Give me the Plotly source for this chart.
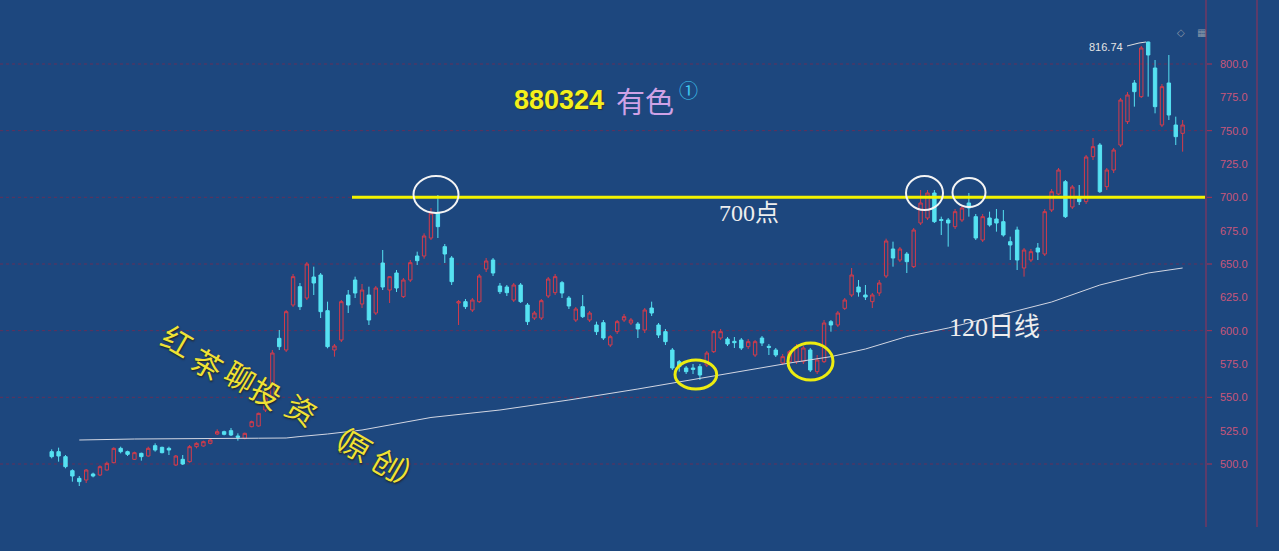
import plotly.graph_objects as go

# ---------------- data ----------------
OPEN = [509.25, 509.25, 505.5, 495, 489.25, 488, 492.5, 491.75, 495.5, 501,
        511.75, 509.25, 503.5, 508, 506, 513.75, 512.5, 511.75, 499.25, 503.5,
        501.75, 513, 513.5, 515.5, 522.5, 524.25, 525, 521, 519.25, 528,
        528.5, 540.5, 550.25, 594.25, 585.5, 619.25, 633, 624.5, 640.25, 641.75,
        615, 585.5, 593, 626.75, 638, 620, 626.75, 613.25, 650.75, 630.5,
        643.25, 625.5, 638, 656, 656, 669.5, 688.25, 663, 654.5, 620.75,
        621.75, 615.5, 621.75, 646.25, 653, 633.5, 632.75, 623, 634.25, 619.25,
        609.5, 609.5, 626, 628.5, 636, 624.5, 608, 618, 608, 604.25,
        606, 589.25, 599.25, 608, 605.75, 605, 600.5, 617, 604.25, 599.25,
        585.5, 576.75, 572, 572, 573, 574.25, 584.25, 594.5, 593.75, 592,
        593, 588, 581.75, 594.5, 588.25, 585.5, 575.75, 576.75, 576.75, 576.75,
        585.5, 569.25, 576.75, 606.75, 604.25, 616.75, 626.75, 632.75, 626.75, 621.75,
        628.25, 641, 661.25, 653, 657.5, 648, 680.75, 684.5, 703.25, 683.4,
        683, 678, 683, 695.75, 685.5, 668, 684.5, 683.75, 681.75, 666.75,
        675.5, 647, 653, 662, 657.5, 690.5, 702.5, 711.75, 692.75, 700.5,
        696.75, 730.5, 739.25, 708, 720.5, 739.25, 756.75, 785.75, 775.5, 816.5,
        797, 754.25, 785.75, 754.25, 748]
HIGH = [511, 512.25, 506.75, 496, 491, 496.25, 493.5, 499, 501.75, 512.5,
        513, 510, 509.25, 508.5, 513, 515.5, 513, 513, 506.75, 506.75,
        514.25, 516.25, 517.5, 518.75, 526, 525, 527, 523, 523.5, 532.5,
        538.5, 551, 585.5, 600.5, 615.5, 642.5, 635.75, 651.5, 648, 643.25,
        621.75, 590, 623, 630.5, 640.5, 635, 633, 633.5, 660.5, 641,
        645.5, 639.5, 653, 659.25, 673, 692, 701.75, 665, 656, 623,
        623.75, 624.5, 642.5, 654.5, 654.5, 635.75, 634.25, 635.75, 635.75, 620.75,
        614.75, 623.75, 640.25, 642.5, 637.25, 626, 617.75, 626.75, 614.75, 606.75,
        608, 596.75, 608, 612.5, 609.5, 606.5, 617, 621.75, 605.75, 601.25,
        587, 578, 573.5, 575, 575, 584.75, 600.5, 601.25, 595.25, 595.25,
        594.5, 593.75, 593, 596, 590, 587, 582.5, 585.5, 590, 588.5,
        587, 581.75, 608, 608, 614.75, 624.5, 647, 638, 634.25, 628.25,
        638, 669, 666.75, 662.75, 659, 677, 705.5, 705.5, 705.5, 685.5,
        684.5, 691.25, 694.25, 703.25, 687.5, 687.5, 689.25, 691.25, 690.5, 670.5,
        678, 662, 661.25, 665.75, 691.25, 706.25, 722, 713, 709.25, 709.25,
        731.75, 744.5, 740.75, 722, 737, 774.5, 779, 788, 813.5, 816.74,
        803, 785, 806.75, 760.5, 758]
LOW = [504.25, 501.75, 496.75, 486.75, 483.5, 485.75, 490, 491, 495, 500.5,
       508, 506, 503, 502.5, 505.5, 509.25, 508, 506.75, 498.5, 499.25,
       501, 511.75, 513, 514.75, 521.75, 521.5, 521, 517.5, 518.5, 527.5,
       528, 539, 549.5, 585.5, 584, 617.75, 615.5, 623, 626.75, 609.5,
       586.75, 580.5, 591.5, 613.25, 624.5, 617, 604.25, 611.75, 630.5, 620.75,
       629, 624.5, 636.5, 649.25, 654, 668, 669.5, 650.75, 634.25, 604.25,
       616.25, 614, 620.75, 644, 641, 627.5, 626, 621.5, 620.75, 604.25,
       608, 608, 624.5, 626.75, 624.5, 616.25, 606.5, 609.5, 606.5, 596.75,
       593, 587.75, 597.5, 606.5, 604.25, 594.5, 598.25, 611, 594.5, 589.25,
       570.5, 569.25, 567.5, 567.5, 563, 572.75, 583.25, 593, 588.5, 587,
       585.5, 586.25, 580.25, 588.5, 581.75, 580.25, 574.25, 575, 575, 575,
       569, 567.5, 575.75, 599.25, 602.75, 615.5, 625.25, 625.5, 623, 617,
       626, 639.5, 648, 651.5, 643.25, 647, 679.25, 683, 680.75, 671.75,
       663, 676.25, 681.5, 685.5, 668, 666.5, 678, 674.25, 670.5, 653,
       645.5, 640.5, 651.5, 653, 656, 689, 701.75, 684.5, 691.25, 694.25,
       695, 728, 703.25, 705.5, 718.25, 737.75, 755, 768, 774.5, 775.5,
       763, 752.75, 758, 739.25, 734.25]
CLOSE = [505.5, 506, 498, 491, 486.75, 495.5, 491, 498, 500.5, 511.75,
         509.25, 507.25, 508.5, 505.5, 511.75, 510.5, 508.5, 510.5, 506, 500,
         513, 515.5, 516.75, 518, 524.25, 522.25, 521.75, 520, 523, 531.75,
         538, 549.5, 583.25, 588, 614.25, 640.5, 618, 650, 635.75, 614.25,
         588, 588.5, 621.75, 619.25, 628.25, 630.5, 608, 632, 632.75, 640.5,
         632, 638, 651, 652.5, 671, 688.25, 678, 657.5, 636.75, 621.75,
         618, 623, 641, 652.25, 643.25, 629.25, 628.5, 634.25, 621.75, 606.75,
         613.25, 622.5, 638.75, 640.5, 628.25, 618.5, 616.25, 610.5, 613.25, 599.25,
         594.5, 595.5, 606.75, 610.5, 608, 601.25, 615.5, 613.25, 596.75, 591.75,
         572, 573, 569.25, 571, 566.75, 583.25, 599.25, 599.25, 590, 591,
         587, 591.75, 591.75, 590.75, 587.5, 581.75, 580.5, 584.25, 588, 587,
         570.5, 578, 605.75, 604.25, 613.25, 623, 641.75, 629, 625.25, 626.75,
         635.75, 667.25, 654.5, 661.25, 651.75, 675.5, 695.75, 703.25, 681.75, 682.6,
         680.75, 689.25, 692, 692, 669.5, 685.5, 679.25, 680.75, 671.75, 664.25,
         653, 660.5, 659.25, 659, 689.25, 704.25, 720.5, 685.5, 707.75, 696.75,
         730.25, 738, 704.25, 720.5, 735.5, 773, 776.75, 779.25, 812, 806.75,
         768, 783, 761.75, 745.5, 754.25]

# 120-day moving average (candle index, value)
MA_IDX = [4, 12, 30, 34, 36, 40, 45, 50, 55, 65, 75, 85, 90, 96, 107, 113,
          118, 124, 130, 137, 145, 152, 159, 164]
MA_VAL = [518, 518.75, 519.35, 519.5, 520.6, 522.5, 525.5, 530.4, 534.9, 540.5,
          548, 556.25, 560.75, 566, 575.75, 580.5, 586.25, 595.6, 602, 611,
          621.5, 634.25, 643.25, 647]

Y_TICKS = [500, 525, 550, 575, 600, 625, 650, 675, 700, 725, 750, 775, 800]
GRID_LEVELS = [500, 550, 600, 650, 700, 750, 800]
RESIST = 700
HIGH_LABEL = "816.74"

# ---------------- layout constants ----------------
W, H = 1279, 551
ML, MR, MT, MB = 0, 74, 22, 24
PW, PH = W - ML - MR, H - MT - MB
N = len(OPEN)
PX0, DX = 51.7, 6.896           # pixel of first candle, spacing
X_RANGE = [-PX0 / DX, (PW - PX0) / DX]
Y_RANGE = [452.75, 831.5]

def xd(px):
    return X_RANGE[0] + px / PW * (X_RANGE[1] - X_RANGE[0])

def yd(py):
    return Y_RANGE[1] - (py - MT) / PH * (Y_RANGE[1] - Y_RANGE[0])

BG = "#1d477e"
UP = "#d63b4a"
DOWN = "#56e2f2"
AXIS = "#5c3b69"

fig = go.Figure()
fig.add_trace(go.Scatter(x=MA_IDX, y=MA_VAL, mode="lines",
                         line=dict(color="#d2d6e2", width=1),
                         hoverinfo="skip", showlegend=False))
fig.add_trace(go.Candlestick(
    x=list(range(N)), open=OPEN, high=HIGH, low=LOW, close=CLOSE,
    increasing=dict(line=dict(color=UP, width=1), fillcolor="rgba(0,0,0,0)"),
    decreasing=dict(line=dict(color=DOWN, width=1), fillcolor=DOWN),
    whiskerwidth=0, showlegend=False, hoverinfo="skip"))

shapes = []
for v in GRID_LEVELS:
    shapes.append(dict(type="line", xref="paper", yref="y", x0=0, x1=1, y0=v, y1=v,
                       line=dict(color="#63305a", width=1, dash="dot"), layer="below"))
    shapes.append(dict(type="line", xref="paper", yref="y", x0=1, x1=1 + 7 / PW, y0=v, y1=v,
                       line=dict(color="#b03050", width=1)))
# right axis frame lines
for px in (PW + 1, 1257):
    shapes.append(dict(type="line", xref="paper", yref="paper", x0=px / PW, x1=px / PW,
                       y0=0, y1=1 + MT / PH, line=dict(color=AXIS, width=2)))
# resistance line
shapes.append(dict(type="line", xref="x", yref="y", x0=xd(352), x1=X_RANGE[1],
                   y0=RESIST, y1=RESIST, line=dict(color="#f3f300", width=3)))
# white circles at the touches of 700
for (px0, px1, py0, py1) in [(413.5, 458.5, 176, 213), (906, 943, 176, 210), (952.5, 985.5, 178, 207)]:
    shapes.append(dict(type="circle", xref="x", yref="y", x0=xd(px0), x1=xd(px1),
                       y0=yd(py1), y1=yd(py0), line=dict(color="#f4f4f4", width=2)))
# yellow ellipses on the MA support
for (px0, px1, py0, py1) in [(675, 716.7, 360, 389), (788, 833, 343, 380)]:
    shapes.append(dict(type="circle", xref="x", yref="y", x0=xd(px0), x1=xd(px1),
                       y0=yd(py1), y1=yd(py0), line=dict(color="#ecec10", width=3)))
# leader from high label to candle
shapes.append(dict(type="path", xref="x", yref="y",
                   path="M %f,%f L %f,%f L %f,%f" % (xd(1127), yd(46), xd(1139), yd(43), xd(1146), yd(42)),
                   line=dict(color="#e0e0e0", width=1)))

ann = []
def txt(px, py, text, size, color, family="Liberation Sans", angle=0, shadow=None, bold=False):
    f = dict(size=size, color=color, family=family)
    if shadow:
        f["shadow"] = shadow
    if bold:
        f["weight"] = "bold"
    ann.append(dict(x=xd(px), y=yd(py), xref="x", yref="y", text=text, showarrow=False,
                    font=f, textangle=angle, xanchor="center", yanchor="middle"))

txt(559, 100, "880324", 27, "#f4f01c", bold=True, shadow="1px 1px 1px #333")
txt(645, 100, "有色", 29, "#cfa2e6", family="Noto Sans CJK SC")
txt(688, 89, "①", 19, "#40c8f0", family="Noto Sans CJK SC")
txt(749, 213, "700点", 24, "#eeeeee", family="Liberation Serif, Noto Sans CJK SC")
txt(994, 327, "120日线", 26, "#eeeeee", family="Liberation Serif, Noto Sans CJK SC")
txt(1106, 47, HIGH_LABEL, 11, "#e4e4e4")
txt(1181, 32, "◇", 10, "#8a96a8", family="DejaVu Sans")
txt(1201, 32, "▦", 10, "#8a96a8", family="DejaVu Sans")

WATERMARK = ["红", "茶", "聊", "投", "资", "（", "原", "创", "）"]
WM_POS = [(178, 340), (208, 363), (241, 376), (267, 392), (302, 409),
          (337, 433), (357, 445), (388, 463), (412, 475)]
for ch, (px, py) in zip(WATERMARK, WM_POS):
    txt(px, py, ch, 30, "#f0e234", family="Noto Sans CJK SC", angle=30,
        shadow="1px 1px 2px #202020")

fig.update_layout(
    width=W, height=H, margin=dict(l=ML, r=MR, t=MT, b=MB),
    paper_bgcolor=BG, plot_bgcolor=BG,
    shapes=shapes, annotations=ann, showlegend=False,
    xaxis=dict(range=X_RANGE, visible=False, rangeslider=dict(visible=False), fixedrange=True),
    yaxis=dict(range=Y_RANGE, side="right", tickvals=Y_TICKS,
               ticktext=["%.1f" % v for v in Y_TICKS],
               tickfont=dict(size=11, color="#c9567a", family="Liberation Sans"),
               ticks="", showgrid=False, zeroline=False, showline=False,
               ticklabelstandoff=14, fixedrange=True),
)
fig.write_html("out.html", config={"displayModeBar": False},
               post_script="document.body.style.margin='0';document.body.style.overflow='hidden';"
                           "document.body.style.background='%s';" % BG)
